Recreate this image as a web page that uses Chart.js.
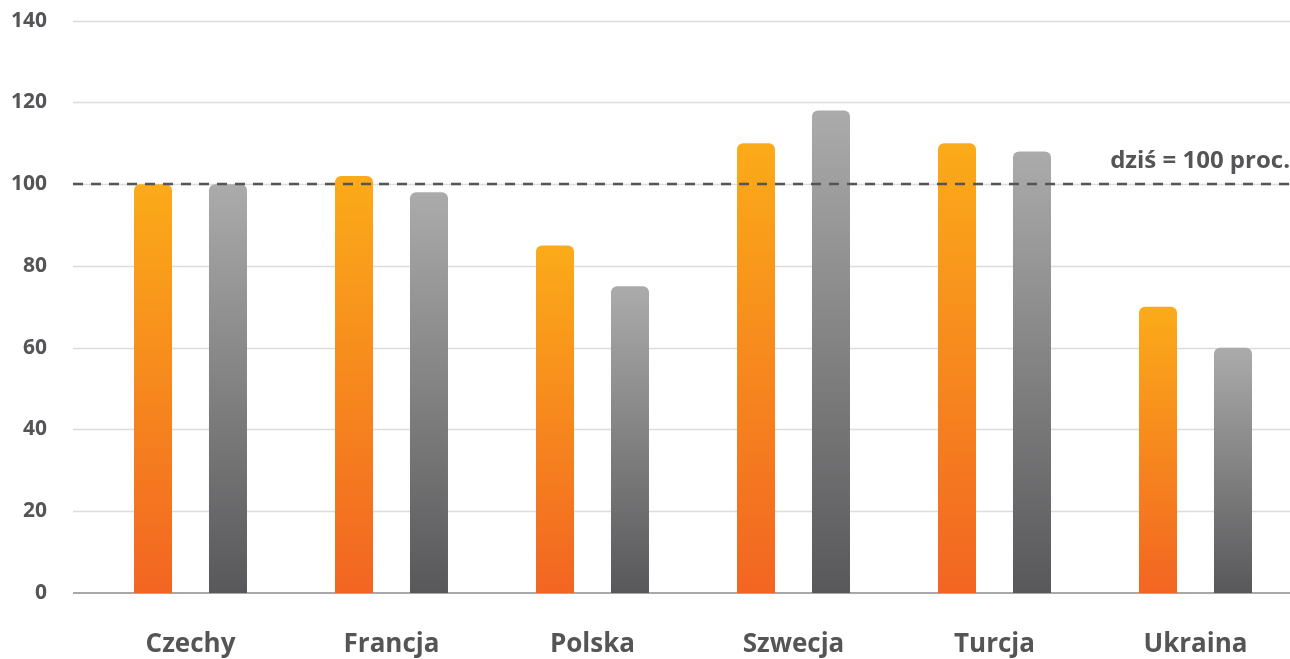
<!DOCTYPE html>
<html>
<head>
<meta charset="utf-8">
<script src="https://cdn.jsdelivr.net/npm/chart.js@4"></script>
<style>
  html, body { margin: 0; padding: 0; background: #fff; overflow: hidden; }
  /* the y tick padding pushes the chart area down, so the canvas is shifted up */
  #wrap { width: 1310px; height: 694px; position: relative; top: -35px; }
</style>
</head>
<body>
<div id="wrap"><canvas id="chart"></canvas></div>
<script>
// data
const countries = ['Czechy', 'Francja', 'Polska', 'Szwecja', 'Turcja', 'Ukraina'];
const orangeValues = [100, 102, 85, 110, 110, 70];
const grayValues = [100, 98, 75, 118, 108, 60];
const yTicks = [0, 20, 40, 60, 80, 100, 120, 140];
const refValue = 100;
const refLabel = 'dziś = 100 proc.';

const FONT = '"Open Sans", sans-serif';
const TEXT = '#555557';

// each bar gets its own gradient, from its top down to the base
function gradient(top, bottom) {
  return function(context) {
    const chart = context.chart;
    const y = chart.scales.y;
    if (!chart.chartArea || !y || context.raw == null) return bottom;
    const yTop = y.getPixelForValue(context.raw);
    const yBase = y.getPixelForValue(0);
    const g = chart.ctx.createLinearGradient(0, yTop, 0, yBase);
    g.addColorStop(0, top);
    g.addColorStop(1, bottom);
    return g;
  };
}

// horizontal grid + dashed 100 line, drawn wider than the chart area
const gridPlugin = {
  id: 'gridPlugin',
  beforeDatasetsDraw(chart) {
    const ctx = chart.ctx;
    const y = chart.scales.y;
    ctx.save();
    ctx.strokeStyle = '#dcdcdc';
    ctx.lineWidth = 1.5;
    yTicks.forEach(function(v) {
      if (v === 0) return;
      const py = Math.round(y.getPixelForValue(v)) + 0.5;
      ctx.beginPath();
      ctx.moveTo(73, py);
      ctx.lineTo(1290, py);
      ctx.stroke();
    });
    ctx.strokeStyle = '#a8a8a8';
    ctx.lineWidth = 2;
    const p0 = Math.round(y.getPixelForValue(0));
    ctx.beginPath();
    ctx.moveTo(73, p0);
    ctx.lineTo(1290, p0);
    ctx.stroke();
    ctx.restore();
  },
  afterDatasetsDraw(chart) {
    const ctx = chart.ctx;
    const y = chart.scales.y;
    const py = Math.round(y.getPixelForValue(refValue));
    ctx.save();
    ctx.strokeStyle = '#555555';
    ctx.lineWidth = 2.5;
    ctx.setLineDash([10, 8]);
    ctx.beginPath();
    ctx.moveTo(73, py);
    ctx.lineTo(1290, py);
    ctx.stroke();
    ctx.setLineDash([]);
    ctx.fillStyle = TEXT;
    ctx.font = 'bold 24px ' + FONT;
    ctx.textAlign = 'right';
    ctx.textBaseline = 'alphabetic';
    ctx.fillText(refLabel, 1290, py - 16);
    ctx.restore();
  }
};

new Chart(document.getElementById('chart'), {
  type: 'bar',
  data: {
    labels: countries,
    datasets: [{
      data: orangeValues,
      backgroundColor: gradient('#fbab19', '#f26522'),
      borderRadius: { topLeft: 6, topRight: 6, bottomLeft: 0, bottomRight: 0 },
      borderSkipped: 'bottom',
      categoryPercentage: 0.746,
      barPercentage: 0.507
    }, {
      data: grayValues,
      backgroundColor: gradient('#ababab', '#58585a'),
      borderRadius: { topLeft: 6, topRight: 6, bottomLeft: 0, bottomRight: 0 },
      borderSkipped: 'bottom',
      categoryPercentage: 0.746,
      barPercentage: 0.507
    }]
  },
  options: {
    responsive: true,
    maintainAspectRatio: false,
    animation: false,
    layout: { padding: { top: 0, right: 14, left: 0, bottom: 0 } },
    scales: {
      x: {
        grid: { display: false, drawTicks: false },
        border: { display: false },
        ticks: {
          color: TEXT,
          font: { family: FONT, size: 26, weight: 'bold' },
          padding: 36
        },
        afterFit: function(scale) { scale.height = 66; }
      },
      y: {
        min: 0,
        max: 140,
        afterBuildTicks: function(scale) {
          scale.ticks = yTicks.map(function(v) { return { value: v }; });
        },
        grid: { display: false, drawTicks: false },
        border: { display: false },
        ticks: {
          color: TEXT,
          font: { family: FONT, size: 21, weight: 'bold' },
          padding: 43
        },
        afterFit: function(scale) { scale.width = 90; }
      }
    },
    plugins: {
      legend: { display: false },
      tooltip: { enabled: false }
    }
  },
  plugins: [gridPlugin]
});
</script>
</body>
</html>
